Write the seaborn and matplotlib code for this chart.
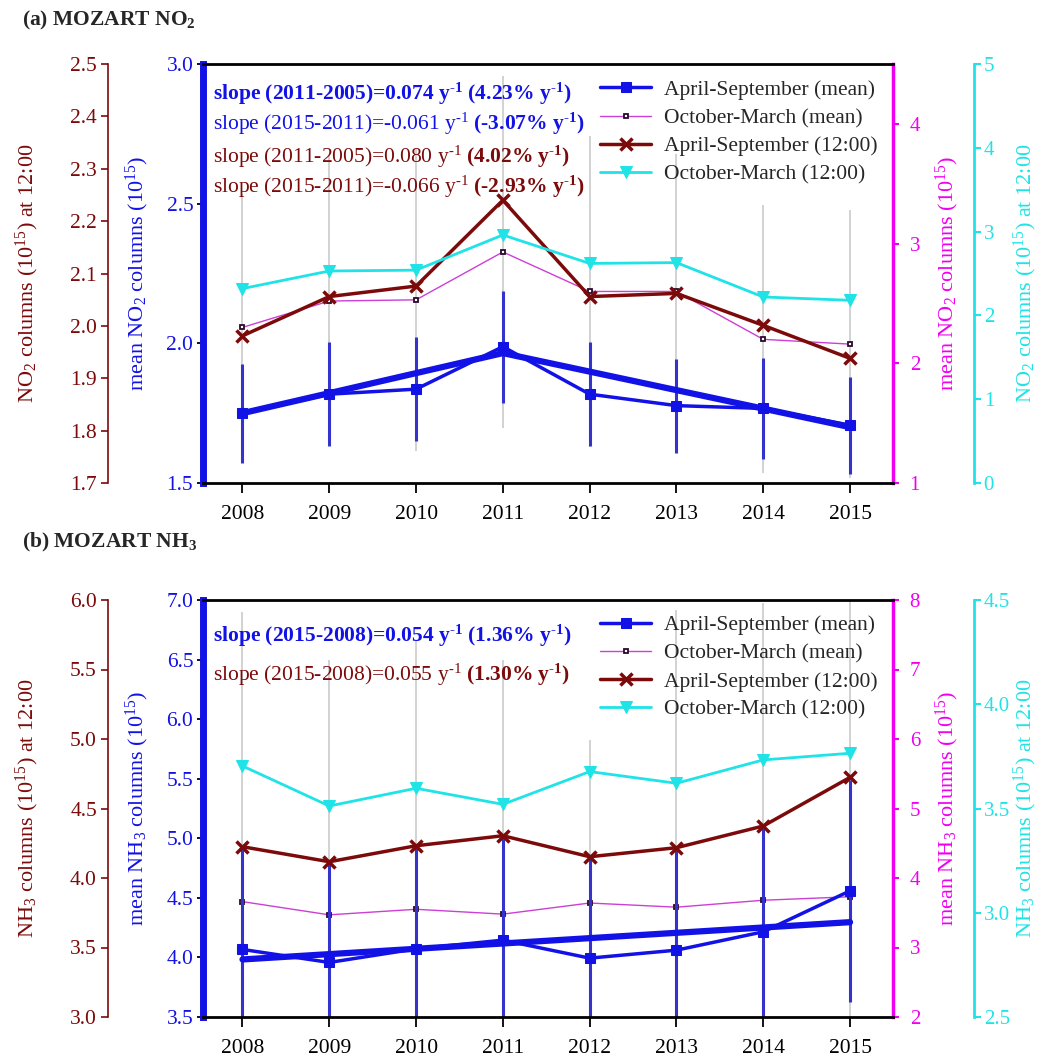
import matplotlib
matplotlib.use('Agg')
import matplotlib.pyplot as plt
import pandas as pd
import seaborn as sns

# ---- data ----
years = [2008, 2009, 2010, 2011, 2012, 2013, 2014, 2015]
series_labels = ['April-September (mean)', 'October-March (mean)',
                 'April-September (12:00)', 'October-March (12:00)']

# (a) NO2
no2_as_mean = [1.749, 1.818, 1.836, 1.988, 1.818, 1.777, 1.767, 1.707]
no2_as_mean_sd = [0.178, 0.186, 0.187, 0.200, 0.185, 0.168, 0.180, 0.174]
no2_om_mean = [2.30, 2.52, 2.53, 2.93, 2.60, 2.60, 2.20, 2.16]
no2_om_mean_sd = [1.11, 1.21, 1.26, 1.47, 1.30, 1.15, 1.12, 1.12]
no2_as_noon = [1.981, 2.056, 2.076, 2.240, 2.056, 2.062, 2.001, 1.938]
no2_om_noon = [2.32, 2.53, 2.54, 2.96, 2.62, 2.63, 2.22, 2.18]
no2_trend_years = [2008, 2011, 2015]
no2_trend = [1.75, 1.965, 1.70]
# hyphen (U+2010) instead of '-' inside mathtext so it is not drawn as a long minus
no2_slopes = [
    ('slope (2011-2005)=0.074 y$^{\\mathbf{\u20101}}$ (4.23% y$^{\\mathbf{\u20101}}$)', 'blue', 'bold'),
    ('slope (2015-2011)=-0.061 y$^{\u20101}$ $\\mathbf{(\u20103.07\\%\\ y^{\u20101})}$', 'blue', 'normal'),
    ('slope (2011-2005)=0.080 y$^{\u20101}$ $\\mathbf{(4.02\\%\\ y^{\u20101})}$', 'maroon', 'normal'),
    ('slope (2015-2011)=-0.066 y$^{\u20101}$ $\\mathbf{(\u20102.93\\%\\ y^{\u20101})}$', 'maroon', 'normal'),
]

# (b) NH3
nh3_as_mean = [4.067, 3.958, 4.072, 4.145, 3.994, 4.061, 4.215, 4.559]
nh3_as_mean_sd = [0.86, 0.845, 0.865, 0.876, 0.85, 0.86, 0.887, 0.93]
nh3_om_mean = [3.66, 3.47, 3.55, 3.48, 3.64, 3.58, 3.68, 3.73]
nh3_om_mean_sd = [4.17, 3.67, 3.87, 3.65, 2.35, 4.28, 4.27, 4.27]
nh3_as_noon = [4.225, 4.117, 4.232, 4.304, 4.153, 4.218, 4.374, 4.724]
nh3_om_noon = [3.704, 3.512, 3.597, 3.520, 3.677, 3.621, 3.733, 3.765]
nh3_trend_years = [2008, 2015]
nh3_trend = [3.983, 4.296]
nh3_slopes = [
    ('slope (2015-2008)=0.054 y$^{\\mathbf{\u20101}}$ (1.36% y$^{\\mathbf{\u20101}}$)', 'blue', 'bold'),
    ('slope (2015-2008)=0.055 y$^{\u20101}$ $\\mathbf{(1.30\\%\\ y^{\u20101})}$', 'maroon', 'normal'),
]

# ---- style ----
sns.set_theme(style='white')
plt.rcParams['font.family'] = ['Liberation Serif', 'DejaVu Serif']
plt.rcParams['mathtext.fontset'] = 'custom'
plt.rcParams['mathtext.rm'] = 'Liberation Serif'
plt.rcParams['mathtext.it'] = 'Liberation Serif:italic'
plt.rcParams['mathtext.bf'] = 'Liberation Serif:bold'

BLUE = '#1212e6'
BLUE_ERR = '#3434cc'
MAROON = '#7c0a0a'
PINK_LINE = '#cc3fd6'
PINK_AX = '#f000f0'
CYAN = '#1fe3e6'
GREY = '#cfcfcf'
TEXT_COL = {'blue': BLUE, 'maroon': MAROON}
TICK_FS = 15.5

W, H = 1044, 1061
fig = plt.figure(figsize=(W / 100, H / 100), dpi=100)
fig.patch.set_facecolor('white')


def px_rect(x0, y0, x1, y1):
    return [x0 / W, 1 - y1 / H, (x1 - x0) / W, (y1 - y0) / H]


def draw_panel(rect, sp, as_mean, as_sd, om_mean, om_sd, as_noon, om_noon,
               tr_years, trend, slopes, lims, ticks, leg_y, slope_y):
    ax = fig.add_axes(rect)
    ax_p = ax.twinx()
    ax_m = ax.twinx()
    ax_c = ax.twinx()
    for z, a in zip([1, 2, 3, 4], [ax_p, ax, ax_m, ax_c]):
        a.set_zorder(z)
        a.patch.set_visible(False)
        for s in a.spines.values():
            s.set_visible(False)

    df = pd.DataFrame({'year': years, 'as_mean': as_mean, 'om_mean': om_mean,
                       'as_noon': as_noon, 'om_noon': om_noon})
    tdf = pd.DataFrame({'year': tr_years, 'trend': trend})

    # October-March mean (pink axis) with its grey error bars
    ax_p.errorbar(years, om_mean, yerr=om_sd, fmt='none', ecolor=GREY,
                  elinewidth=1.3, capsize=0)
    sns.lineplot(data=df, x='year', y='om_mean', ax=ax_p, color=PINK_LINE, lw=1,
                 marker='s', markersize=3.5, markerfacecolor='white',
                 markeredgecolor='#2a0a2a', markeredgewidth=1.3,
                 label=series_labels[1])

    # April-September mean (blue axis)
    ax.errorbar(years, as_mean, yerr=as_sd, fmt='none', ecolor=BLUE_ERR,
                elinewidth=2.2, capsize=0)
    sns.lineplot(data=tdf, x='year', y='trend', ax=ax, color=BLUE, lw=4.5)
    sns.lineplot(data=df, x='year', y='as_mean', ax=ax, color=BLUE, lw=2.5,
                 marker='s', markersize=7, markeredgecolor=BLUE,
                 label=series_labels[0])

    # April-September 12:00 (maroon axis)
    sns.lineplot(data=df, x='year', y='as_noon', ax=ax_m, color=MAROON, lw=2.5,
                 marker='x', markersize=9, markeredgewidth=2.5,
                 markeredgecolor=MAROON, label=series_labels[2])

    # October-March 12:00 (cyan axis)
    sns.lineplot(data=df, x='year', y='om_noon', ax=ax_c, color=CYAN, lw=2,
                 marker='v', markersize=8, markeredgecolor=CYAN,
                 label=series_labels[3])

    ax.set_xlim(2007.545, 2015.495)
    ax.set_xticks(years)
    ax.set_xticklabels([str(y) for y in years])
    ax.set_xlabel('')

    (bl, ml, pl, cl) = lims
    (bt, mt, pt, ct) = ticks
    ax.set_ylim(*bl); ax.set_yticks(bt)
    ax_m.set_ylim(*ml); ax_m.set_yticks(mt)
    ax_p.set_ylim(*pl); ax_p.set_yticks(pt)
    ax_c.set_ylim(*cl); ax_c.set_yticks(ct)

    # spines
    ax.spines['left'].set_visible(True)
    ax.spines['left'].set_color(BLUE)
    ax.spines['left'].set_linewidth(5)
    for k in ['top', 'bottom']:
        ax.spines[k].set_visible(True)
        ax.spines[k].set_color('black')
        ax.spines[k].set_linewidth(2)
    ax_p.spines['right'].set_visible(True)
    ax_p.spines['right'].set_color(PINK_AX)
    ax_p.spines['right'].set_linewidth(2.5)
    ax_m.spines['left'].set_visible(True)
    ax_m.spines['left'].set_position(('axes', -0.1377))
    ax_m.spines['left'].set_color(MAROON)
    ax_m.spines['left'].set_linewidth(1.2)
    ax_m.yaxis.set_ticks_position('left')
    ax_m.yaxis.set_label_position('left')
    ax_c.spines['right'].set_visible(True)
    ax_c.spines['right'].set_position(('axes', 1.1174))
    ax_c.spines['right'].set_color(CYAN)
    ax_c.spines['right'].set_linewidth(2)

    # ticks
    ax.tick_params(axis='x', bottom=True, top=False, length=7, width=1.3,
                   color='black', labelsize=TICK_FS, labelcolor='black', pad=9)
    ax.tick_params(axis='y', left=True, right=False, labelleft=True,
                   labelright=False, length=4, width=1.3, color='black',
                   labelcolor=BLUE, labelsize=TICK_FS, pad=3)
    ax_m.tick_params(axis='y', left=True, right=False, labelleft=True,
                     labelright=False, length=5, width=1.2, color=MAROON,
                     labelcolor=MAROON, labelsize=TICK_FS, pad=3)
    ax_p.tick_params(axis='y', right=True, left=False, labelright=True,
                     labelleft=False, length=4, width=1.5, color=PINK_AX,
                     labelcolor=PINK_AX, labelsize=15, pad=8)
    ax_c.tick_params(axis='y', right=True, left=False, labelright=True,
                     labelleft=False, length=5, width=1.5, color=CYAN,
                     labelcolor=CYAN, labelsize=15, pad=2)

    # axis labels
    lab_noon = sp + r' columns (10$^{15}$) at 12:00'
    lab_mean = 'mean ' + sp + r' columns (10$^{15}$)'
    for a, txt, col, xc in [(ax_m, lab_noon, MAROON, -0.2551),
                            (ax, lab_mean, BLUE, -0.0957),
                            (ax_p, lab_mean, PINK_AX, 1.0783),
                            (ax_c, lab_noon, CYAN, 1.1920)]:
        a.set_ylabel(txt, color=col, fontsize=16, va='center', ha='center',
                     rotation=90)
        a.yaxis.set_label_coords(xc, 0.5)

    # legend
    handles, labels = [], []
    for a in [ax, ax_p, ax_m, ax_c]:
        h, l = a.get_legend_handles_labels()
        handles += h
        labels += l
        if a.get_legend() is not None:
            a.get_legend().remove()
    ax_c.legend(handles, labels, loc='upper left', bbox_to_anchor=(0.575, leg_y),
                bbox_transform=ax.transAxes, frameon=False, fontsize=15.5,
                handlelength=2.4, handletextpad=0.6, labelspacing=0.38,
                borderpad=0, borderaxespad=0)

    # slope annotations
    for (txt, col, wt), yy in zip(slopes, slope_y):
        ax_c.text(0.0145, yy, txt, transform=ax.transAxes, color=TEXT_COL[col],
                  fontweight=wt, fontsize=15.5, va='baseline', ha='left')
    return ax


draw_panel(px_rect(203, 64, 893, 483), r'NO$_2$',
           no2_as_mean, no2_as_mean_sd, no2_om_mean, no2_om_mean_sd,
           no2_as_noon, no2_om_noon, no2_trend_years, no2_trend, no2_slopes,
           lims=((1.5, 3.0), (1.7, 2.5), (1.0, 4.5), (0.0, 5.0)),
           ticks=([1.5, 2.0, 2.5, 3.0],
                  [1.7, 1.8, 1.9, 2.0, 2.1, 2.2, 2.3, 2.4, 2.5],
                  [1, 2, 3, 4], [0, 1, 2, 3, 4, 5]),
           leg_y=0.962, slope_y=[0.914, 0.8425, 0.7637, 0.6921])

draw_panel(px_rect(203, 600, 893, 1017), r'NH$_3$',
           nh3_as_mean, nh3_as_mean_sd, nh3_om_mean, nh3_om_mean_sd,
           nh3_as_noon, nh3_om_noon, nh3_trend_years, nh3_trend, nh3_slopes,
           lims=((3.5, 7.0), (3.0, 6.0), (2.0, 8.0), (2.5, 4.5)),
           ticks=([3.5, 4.0, 4.5, 5.0, 5.5, 6.0, 6.5, 7.0],
                  [3.0, 3.5, 4.0, 4.5, 5.0, 5.5, 6.0],
                  [2, 3, 4, 5, 6, 7, 8], [2.5, 3.0, 3.5, 4.0, 4.5]),
           leg_y=0.964, slope_y=[0.8993, 0.8058])

# panel titles
fig.text(22 / W, 1 - 25 / H, r'(a) MOZART NO$_\mathbf{2}$', fontsize=15.5,
         fontweight='bold', va='baseline', ha='left')
fig.text(22 / W, 1 - 547 / H, r'(b) MOZART NH$_\mathbf{3}$', fontsize=15.5,
         fontweight='bold', va='baseline', ha='left')

fig.savefig('out.png', dpi=100, facecolor='white')
